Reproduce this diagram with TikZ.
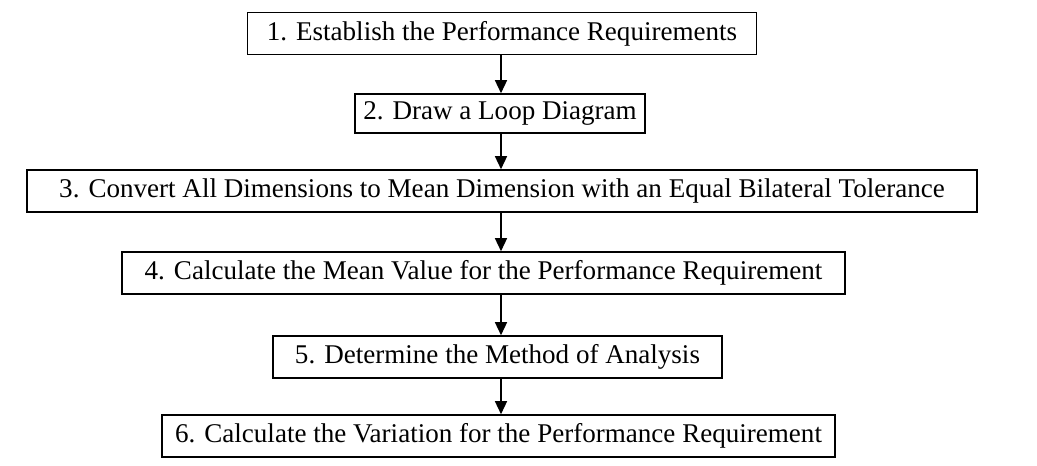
\documentclass[tikz,border=0pt]{standalone}
\usepackage{fontspec}
\setmainfont{Liberation Serif}
\usetikzlibrary{arrows.meta,positioning}

\begin{document}
\begin{tikzpicture}[
  x=0.02cm,y=-0.02cm,
  stepbox/.style={draw,line width=.9pt,minimum height=0.84cm,inner sep=0pt,align=center,
    font=\fontsize{15.4}{18}\selectfont},
  flow/.style={line width=.8pt,-{Triangle[length=2.6mm,width=2.4mm]}}
]
  \useasboundingbox[fill=white] (0,0) rectangle (1037,466);

  \node[stepbox,minimum width=10.18cm] (s1) at (502,33.5) {1. Establish the Performance Requirements};
  \node[stepbox,minimum width=5.80cm,minimum height=0.78cm] (s2) at (500,113.5) {2. Draw a Loop Diagram};
  \node[stepbox,minimum width=19.00cm] (s3) at (502,191) {3. Convert All Dimensions to Mean Dimension with an Equal Bilateral Tolerance};
  \node[stepbox,minimum width=14.46cm] (s4) at (483.5,273) {4. Calculate the Mean Value for the Performance Requirement};
  \node[stepbox,minimum width=8.98cm] (s5) at (497.5,357) {5. Determine the Method of Analysis};
  \node[stepbox,minimum width=13.46cm] (s6) at (498.5,436) {6. Calculate the Variation for the Performance Requirement};

  % the arrows all run down one line
  \coordinate (axis) at (501,0);
  \draw[flow] (axis |- s1.south) -- (axis |- s2.north);
  \draw[flow] (axis |- s2.south) -- (axis |- s3.north);
  \draw[flow] (axis |- s3.south) -- (axis |- s4.north);
  \draw[flow] (axis |- s4.south) -- (axis |- s5.north);
  \draw[flow] (axis |- s5.south) -- (axis |- s6.north);
\end{tikzpicture}
\end{document}
